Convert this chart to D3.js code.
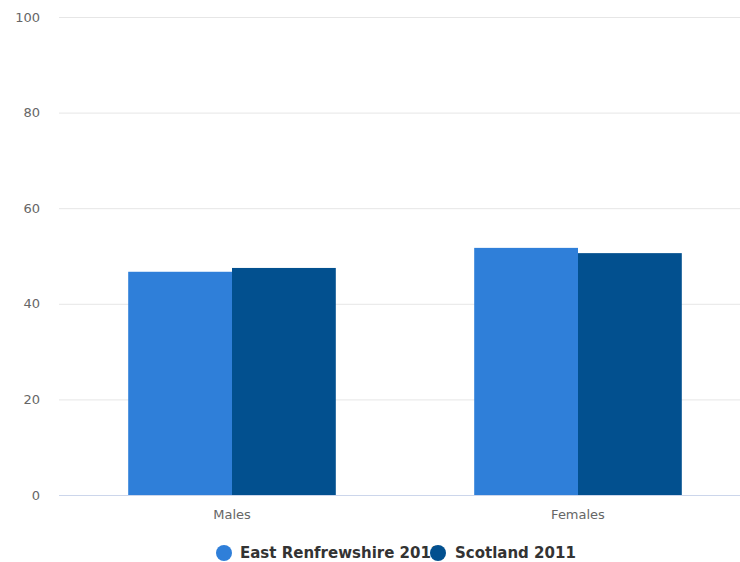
<!DOCTYPE html>
<html>
<head>
<meta charset="utf-8">
<script src="https://cdn.jsdelivr.net/npm/d3@7"></script>
<style>
  html, body { margin: 0; padding: 0; background: #fff; }
  svg { display: block; font-family: "DejaVu Sans", sans-serif; }
</style>
</head>
<body>
<svg id="chart" width="740" height="562"></svg>
<script>
// Population share by sex, 2011
const categories = ["Males", "Females"];
const seriesNames = ["East Renfrewshire 2011", "Scotland 2011"];
const eastRenfrewshire = [46.7, 51.7];
const scotland = [47.5, 50.6];
const yTicks = [0, 20, 40, 60, 80, 100];
const colors = ["#2f7fd9", "#02508f"];

const seriesValues = [eastRenfrewshire, scotland];
const rows = categories.map((c, i) => ({
  category: c,
  values: seriesValues.map((vals, s) => ({ series: seriesNames[s], value: vals[i], idx: s }))
}));

const svg = d3.select("#chart");
const W = 740, H = 562;
const plotLeft = 59, plotRight = 751, plotTop = 17, plotBottom = 495;

const x = d3.scaleBand().domain(categories).range([plotLeft, plotRight]).paddingInner(0).paddingOuter(0);
const xInner = d3.scaleBand().domain(seriesNames).range([x.bandwidth() * 0.2, x.bandwidth() * 0.8]).padding(0);
const y = d3.scaleLinear().domain([0, 100]).range([plotBottom, plotTop]);

// horizontal grid lines
svg.append("g")
  .selectAll("line")
  .data(yTicks.filter(t => t !== 0))
  .join("line")
  .attr("x1", plotLeft).attr("x2", W)
  .attr("y1", d => y(d) + 0.5).attr("y2", d => y(d) + 0.5)
  .attr("stroke", "#e6e6e6").attr("stroke-width", 1);

// y axis labels
const yAxis = d3.axisLeft(y).tickValues(yTicks).tickSize(0).tickPadding(0);
const gy = svg.append("g").attr("transform", `translate(${plotLeft - 19},0)`).call(yAxis);
gy.select(".domain").remove();
gy.selectAll("text")
  .attr("fill", "#666").attr("font-size", 13).attr("font-family", "DejaVu Sans, sans-serif")
  .attr("dy", "0.32em");

// bars
const groups = svg.append("g")
  .selectAll("g")
  .data(rows)
  .join("g")
  .attr("transform", d => `translate(${x(d.category)},0)`);

groups.selectAll("rect")
  .data(d => d.values)
  .join("rect")
  .attr("x", d => xInner(d.series))
  .attr("width", xInner.bandwidth())
  .attr("y", d => y(d.value))
  .attr("height", d => y(0) - y(d.value))
  .attr("fill", d => colors[d.idx]);

// x axis baseline and labels
svg.append("line")
  .attr("x1", plotLeft).attr("x2", W)
  .attr("y1", plotBottom + 0.5).attr("y2", plotBottom + 0.5)
  .attr("stroke", "#ccd6eb").attr("stroke-width", 1);

const xAxis = d3.axisBottom(x).tickSize(0).tickPadding(0);
const gx = svg.append("g").attr("transform", `translate(0,${plotBottom + 20})`).call(xAxis);
gx.select(".domain").remove();
gx.selectAll("text")
  .attr("fill", "#666").attr("font-size", 13).attr("font-family", "DejaVu Sans, sans-serif")
  .attr("dy", "0.32em");

// legend
const legendItems = [
  { name: seriesNames[0], cx: 224, tx: 240 },
  { name: seriesNames[1], cx: 438, tx: 455 }
];
const legend = svg.append("g");
legendItems.forEach((item, i) => {
  legend.append("text")
    .attr("x", item.tx).attr("y", 553).attr("dy", "0.35em")
    .attr("font-size", 15).attr("font-weight", "bold").attr("fill", "#333")
    .attr("font-family", "DejaVu Sans, sans-serif")
    .text(item.name);
  legend.append("circle")
    .attr("cx", item.cx).attr("cy", 553).attr("r", 8)
    .attr("fill", colors[i]);
});
</script>
</body>
</html>
